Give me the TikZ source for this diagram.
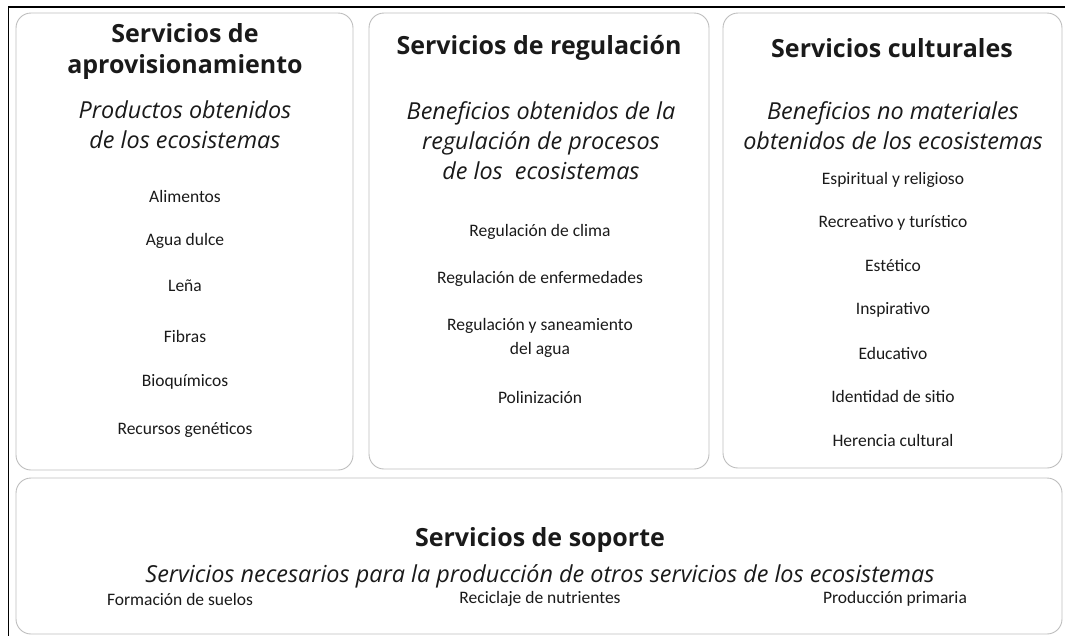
\documentclass[tikz,border=0pt]{standalone}
\usepackage{fontspec}
\setmainfont{Carlito}
\newfontfamily\headfont{Open Sans}
\usepackage{xcolor}
\definecolor{boxgray}{HTML}{BDBDBD}
\definecolor{txtgray}{HTML}{1A1A1A}

\begin{document}
\begin{tikzpicture}[x=1pt, y=-1pt,
    box/.style={draw=boxgray, line width=0.9pt, rounded corners=15pt, inner sep=0pt},
    title/.style={text=txtgray, align=center, font=\headfont\bfseries\fontsize{25}{31}\selectfont},
    subtitle/.style={text=txtgray, align=center, font=\headfont\itshape\fontsize{23.4}{30}\selectfont},
    item/.style={text=txtgray, align=center, font=\fontsize{17.5}{24}\selectfont},
    frame/.style={draw=black, line width=1.6pt}]

    \useasboundingbox (0,0) rectangle (1065,635);
    \draw[frame] (8.5,7) rectangle (1080,650);

    % Boxes
    \node[box, minimum width=337pt, minimum height=457pt] (prov) at (184.5,241.5) {};
    \node[box, minimum width=340pt, minimum height=456pt] (reg) at (539,241) {};
    \node[box, minimum width=339pt, minimum height=455pt] (cult) at (892.5,240.5) {};
    \node[box, minimum width=1046pt, minimum height=156pt] (sop) at (539,556) {};

    % Titles
    \node[title] (tprov) at (185,52) {Servicios de\\aprovisionamiento};
    \node[title] (treg) at (539,48) {Servicios de regulación};
    \node[title] (tcult) at (892,48) {Servicios culturales};
    \node[title] (tsop) at (540,540) {Servicios de soporte};

    % Subtitles
    \node[subtitle] (sprov) at (185,125) {Productos obtenidos\\de los ecosistemas};
    \node[subtitle] (sreg) at (541,141) {Beneficios obtenidos de la\\regulación de procesos\\de los\ \ ecosistemas};
    \node[subtitle] (scult) at (893,126) {Beneficios no materiales\\obtenidos de los ecosistemas};
    \node[subtitle] (ssop) at (540,576) {Servicios necesarios para la producción de otros servicios de los ecosistemas};

    % Aprovisionamiento
    \node[item] (alim) at (185,196) {Alimentos};
    \node[item] (agua) at (185,241) {Agua dulce};
    \node[item] (lena) at (185,286) {Leña};
    \node[item] (fibr) at (185,336) {Fibras};
    \node[item] (bioq) at (185,382) {Bioquímicos};
    \node[item] (recg) at (185,430) {Recursos genéticos};

    % Regulacion
    \node[item] (clima) at (540,232) {Regulación de clima};
    \node[item] (enfer) at (540,279) {Regulación de enfermedades};
    \node[item] (sanea) at (540,338) {Regulación y saneamiento\\del agua};
    \node[item] (polin) at (540,397) {Polinización};

    % Culturales
    \node[item] (espi) at (893,180) {Espiritual y religioso};
    \node[item] (recr) at (893,223) {Recreativo y turístico};
    \node[item] (este) at (893,266) {Estético};
    \node[item] (insp) at (893,310) {Inspirativo};
    \node[item] (educ) at (893,353) {Educativo};
    \node[item] (iden) at (893,396) {Identidad de sitio};
    \node[item] (here) at (893,440) {Herencia cultural};

    % Soporte
    \node[item] (suel) at (180,599) {Formación de suelos};
    \node[item] (nutr) at (540,599) {Reciclaje de nutrientes};
    \node[item] (prim) at (895,599) {Producción primaria};

\end{tikzpicture}
\end{document}
